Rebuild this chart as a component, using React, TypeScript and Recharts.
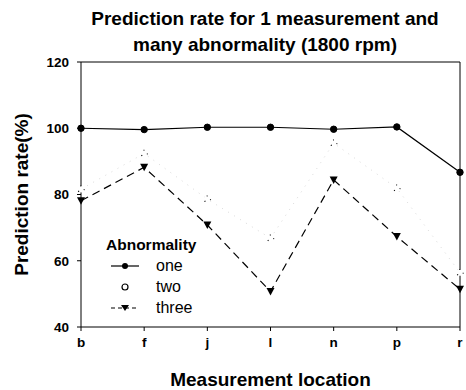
import { LineChart, Line, XAxis, YAxis, ReferenceLine } from 'recharts'

const locations = ['b', 'f', 'j', 'l', 'n', 'p', 'r']
const one = [100, 99.6, 100.3, 100.3, 99.7, 100.4, 86.7]
const two = [81.6, 92.4, 78.6, 66.8, 95.5, 81.9, 56.4]
const three = [78.1, 88.2, 70.8, 50.7, 84.4, 67.3, 51.4]
const yTicks = [40, 60, 80, 100, 120]

const data = locations.map((loc, i) => ({ loc, one: one[i], two: two[i], three: three[i] }))

const FONT = '"Liberation Sans", Arial, sans-serif'
const INK = '#000'

const TriangleDot = (p: any) => {
  const { cx, cy, index } = p
  if (cx == null || cy == null) return null
  return <path key={`tri-${index}`} d={`M${cx - 4},${cy - 3.5} L${cx + 4},${cy - 3.5} L${cx},${cy + 4} Z`} fill={INK} />
}

const YLabel = (p: any) => {
  const vb = p.viewBox || {}
  const cx = (vb.x ?? 0) + 21
  const cy = (vb.y ?? 0) + (vb.height ?? 0) / 2
  return (
    <text x={cx} y={cy} transform={`rotate(-90, ${cx}, ${cy})`} textAnchor="middle" dominantBaseline="central"
      fontFamily={FONT} fontWeight="bold" fontSize={19} fill={INK}>
      Prediction rate(%)
    </text>
  )
}

function LegendIcon({ kind }: { kind: string }) {
  return (
    <svg width={30} height={10} style={{ display: 'block' }}>
      {kind === 'one' && <line x1={1} y1={5} x2={29} y2={5} stroke={INK} strokeWidth={1.2} />}
      {kind === 'one' && <circle cx={15} cy={5} r={3} fill={INK} />}
      {kind === 'two' && <circle cx={15} cy={5} r={3} fill="#fff" stroke={INK} strokeWidth={1.2} />}
      {kind === 'three' && <line x1={1} y1={5} x2={29} y2={5} stroke={INK} strokeWidth={1.2} strokeDasharray="4 3" />}
      {kind === 'three' && <path d="M11,2 L19,2 L15,8 Z" fill={INK} />}
    </svg>
  )
}

export default function App() {
  return (
    <div style={{ position: 'absolute', left: 0, top: 0, width: 466, height: 390, background: '#fff', fontFamily: FONT }}>
      <div style={{ position: 'absolute', left: 40, top: 6, width: 450, textAlign: 'center', fontWeight: 'bold', fontSize: 19, lineHeight: '26px', color: INK }}>
        Prediction rate for 1 measurement and<br />many abnormality (1800 rpm)
      </div>
      <LineChart width={466} height={390} data={data} margin={{ top: 62, right: 6, left: 0, bottom: 0 }}>
        <XAxis dataKey="loc" height={63} stroke={INK} tickSize={4} tickMargin={6} interval={0}
          tick={{ fontSize: 13.5, fontWeight: 'bold', fill: INK, fontFamily: FONT }}
          label={{ value: 'Measurement location', position: 'insideBottom', offset: 4, fontSize: 19, fontWeight: 'bold', fill: INK, fontFamily: FONT }} />
        <YAxis domain={[40, 120]} ticks={yTicks} width={81} stroke={INK} tickSize={4} tickMargin={8}
          tick={{ fontSize: 13.5, fontWeight: 'bold', fill: INK, fontFamily: FONT }}
          label={<YLabel />} />
        <ReferenceLine y={120} stroke={INK} strokeWidth={1} />
        <ReferenceLine x="r" stroke={INK} strokeWidth={1} />
        <Line dataKey="two" stroke="#dadada" strokeWidth={1} strokeDasharray="1 6" isAnimationActive={false}
          dot={{ r: 3.2, fill: '#fff', stroke: INK, strokeWidth: 1.1 }} />
        <Line dataKey="three" stroke={INK} strokeWidth={1.2} strokeDasharray="8 5" isAnimationActive={false}
          dot={TriangleDot} />
        <Line dataKey="one" stroke={INK} strokeWidth={1.2} isAnimationActive={false}
          dot={{ r: 3.2, fill: INK, stroke: INK, strokeWidth: 1 }} />
      </LineChart>
      <div style={{ position: 'absolute', left: 106, top: 235, color: INK }}>
        <div style={{ fontWeight: 'bold', fontSize: 15.5, lineHeight: '20px' }}>Abnormality</div>
        {['one', 'two', 'three'].map((k) => (
          <div key={k} style={{ display: 'flex', alignItems: 'center', height: 21, fontSize: 16 }}>
            <div style={{ width: 46, paddingLeft: 4 }}><LegendIcon kind={k} /></div>
            <span>{k}</span>
          </div>
        ))}
      </div>
    </div>
  )
}
